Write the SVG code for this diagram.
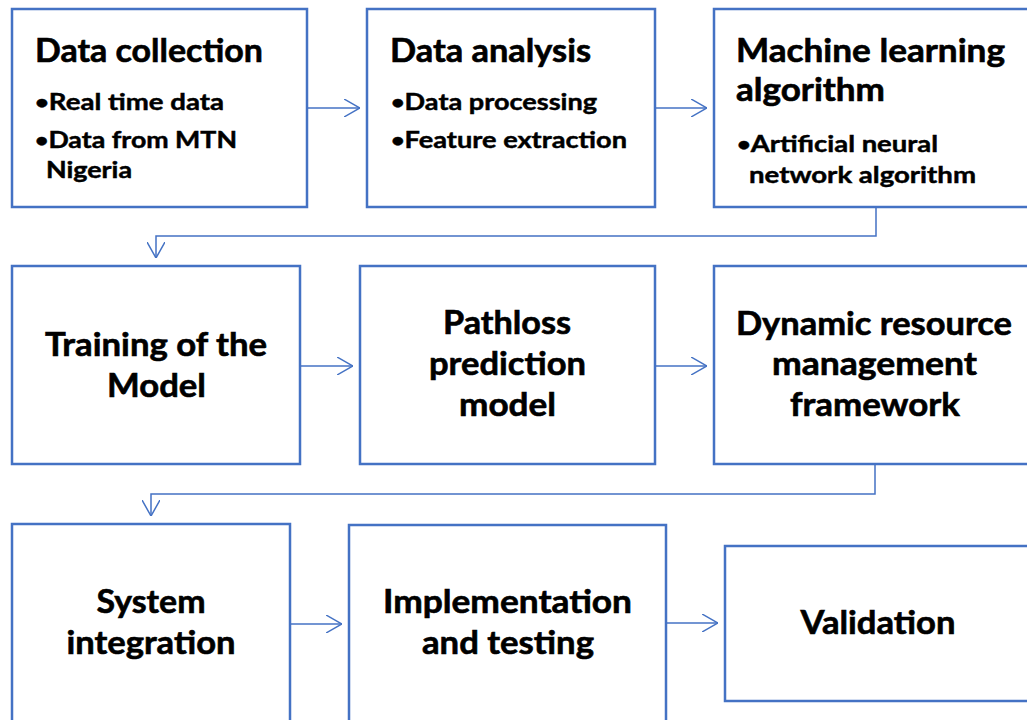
<svg xmlns="http://www.w3.org/2000/svg" width="1027" height="720" viewBox="0 0 1027 720">
<style>
.box{fill:#fff;stroke:#4472C4;stroke-width:2.5}
.con{fill:none;stroke:#4472C4;stroke-width:1.5}
text{font-family:Lato,"Open Sans","Liberation Sans",sans-serif;font-weight:bold;fill:#000;stroke:#000;stroke-width:0.6}
.t{font-size:32px}
.b{font-size:22px;stroke-width:0.45}
.d{font-size:19px}
.m{text-anchor:middle}
</style>
<defs>
<marker id="ah" viewBox="0 0 16 18" refX="16" refY="9" markerWidth="16" markerHeight="18" markerUnits="userSpaceOnUse" orient="auto">
<path d="M0,0 L16,9 L0,18" fill="none" stroke="#4472C4" stroke-width="1.5"/>
</marker>
</defs>
<rect width="1027" height="720" fill="#fff"/>
<g id="connectors">
<path class="con" d="M308,108 H360" marker-end="url(#ah)"/>
<path class="con" d="M655,108 H707" marker-end="url(#ah)"/>
<path class="con" d="M876,207 V236 H156 V258" marker-end="url(#ah)"/>
<path class="con" d="M300,366 H353" marker-end="url(#ah)"/>
<path class="con" d="M655,366 H707" marker-end="url(#ah)"/>
<path class="con" d="M875,464 V494 H151 V516" marker-end="url(#ah)"/>
<path class="con" d="M290,624 H342" marker-end="url(#ah)"/>
<path class="con" d="M666,623 H718" marker-end="url(#ah)"/>
</g>
<g id="data-collection">
<rect class="box" x="12" y="9" width="295" height="198"/>
<text class="t" x="35" y="62" textLength="228" lengthAdjust="spacingAndGlyphs">Data collection</text>
<text class="b" x="35" y="110" textLength="189" lengthAdjust="spacingAndGlyphs"><tspan class="d" dy="-1.5">•</tspan><tspan dy="1.5">Real time data</tspan></text>
<text class="b" x="35" y="148" textLength="202" lengthAdjust="spacingAndGlyphs"><tspan class="d" dy="-1.5">•</tspan><tspan dy="1.5">Data from MTN</tspan></text>
<text class="b" x="46" y="178" textLength="86" lengthAdjust="spacingAndGlyphs">Nigeria</text>
</g>
<g id="data-analysis">
<rect class="box" x="367" y="9" width="288" height="198"/>
<text class="t" x="390" y="62" textLength="201" lengthAdjust="spacingAndGlyphs">Data analysis</text>
<text class="b" x="391" y="110" textLength="206" lengthAdjust="spacingAndGlyphs"><tspan class="d" dy="-1.5">•</tspan><tspan dy="1.5">Data processing</tspan></text>
<text class="b" x="391" y="148" textLength="236" lengthAdjust="spacingAndGlyphs"><tspan class="d" dy="-1.5">•</tspan><tspan dy="1.5">Feature extraction</tspan></text>
</g>
<g id="ml-algorithm">
<rect class="box" x="714" y="9" width="325" height="198"/>
<text class="t" x="736" y="62" textLength="269" lengthAdjust="spacingAndGlyphs">Machine learning</text>
<text class="t" x="736" y="101" textLength="149" lengthAdjust="spacingAndGlyphs">algorithm</text>
<text class="b" x="737" y="152" textLength="201" lengthAdjust="spacingAndGlyphs"><tspan class="d" dy="-1.5">•</tspan><tspan dy="1.5">Artificial neural</tspan></text>
<text class="b" x="749" y="183" textLength="227" lengthAdjust="spacingAndGlyphs">network algorithm</text>
</g>
<g id="training">
<rect class="box" x="12" y="266" width="288" height="198"/>
<text class="t m" x="156" y="356" textLength="222" lengthAdjust="spacingAndGlyphs">Training of the</text>
<text class="t m" x="156.5" y="397" textLength="99" lengthAdjust="spacingAndGlyphs">Model</text>
</g>
<g id="pathloss">
<rect class="box" x="360" y="266" width="295" height="198"/>
<text class="t m" x="507" y="334" textLength="128" lengthAdjust="spacingAndGlyphs">Pathloss</text>
<text class="t m" x="507.5" y="375" textLength="157" lengthAdjust="spacingAndGlyphs">prediction</text>
<text class="t m" x="507.5" y="416" textLength="97" lengthAdjust="spacingAndGlyphs">model</text>
</g>
<g id="dynamic-resource">
<rect class="box" x="714" y="266" width="325" height="198"/>
<text class="t m" x="874" y="335" textLength="276" lengthAdjust="spacingAndGlyphs">Dynamic resource</text>
<text class="t m" x="874.5" y="375" textLength="205" lengthAdjust="spacingAndGlyphs">management</text>
<text class="t m" x="875" y="416" textLength="170" lengthAdjust="spacingAndGlyphs">framework</text>
</g>
<g id="system-integration">
<rect class="box" x="12" y="524" width="278" height="210"/>
<text class="t m" x="151" y="613" textLength="109" lengthAdjust="spacingAndGlyphs">System</text>
<text class="t m" x="151" y="654" textLength="169" lengthAdjust="spacingAndGlyphs">integration</text>
</g>
<g id="implementation">
<rect class="box" x="349" y="525" width="317" height="210"/>
<text class="t m" x="507.5" y="613" textLength="249" lengthAdjust="spacingAndGlyphs">Implementation</text>
<text class="t m" x="508" y="654" textLength="172" lengthAdjust="spacingAndGlyphs">and testing</text>
</g>
<g id="validation">
<rect class="box" x="725" y="546" width="312" height="155"/>
<text class="t m" x="878" y="634" textLength="155" lengthAdjust="spacingAndGlyphs">Validation</text>
</g>
</svg>
